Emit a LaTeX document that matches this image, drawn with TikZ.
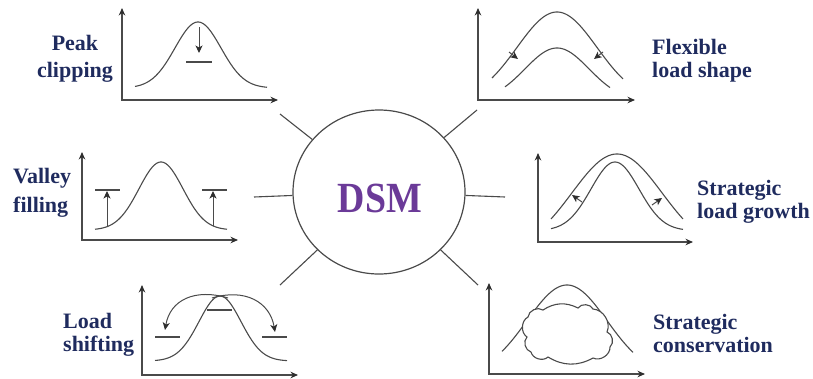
\documentclass[tikz,border=0pt]{standalone}
\usepackage{fontspec}
\setmainfont{Liberation Serif}
\usetikzlibrary{arrows.meta,shapes.geometric}
\definecolor{labelnavy}{HTML}{1F2B5E}
\definecolor{dsmpurple}{HTML}{6B3A98}
\definecolor{linegray}{HTML}{4A4A4A}
\definecolor{tipgray}{HTML}{2E2E2E}
% bell-shaped load curve: from x=#1 to x=#2, centre #3, base #4, height #5, spread #6
\newcommand\bellcurve[6]{\draw[curve] plot[domain=#1:#2,samples=90,smooth] (\x,{#4-#5*exp(-((\x-#3)^2)/(2*#6*#6))});}
\begin{document}
\begin{tikzpicture}[x=1pt,y=-1pt,
  curve/.style={linegray,line width=1.1pt},
  axes/.style={linegray,line width=1.1pt,{Stealth[length=7.5pt,width=6.5pt,color=tipgray]}-{Stealth[length=7.5pt,width=6.5pt,color=tipgray]}},
  marker/.style={linegray,line width=1.1pt},
  tip/.style={linegray,line width=1pt,-{Stealth[length=7.5pt,width=7pt,inset=2pt,color=tipgray]}},
  spoke/.style={linegray,line width=1.1pt},
  label/.style={text=labelnavy,font=\fontsize{22}{23}\selectfont\bfseries,inner sep=0pt},
  hub/.style={ellipse,draw=linegray,line width=1.2pt,minimum width=172pt,minimum height=164pt,inner sep=0pt}]
\useasboundingbox (0,0) rectangle (813,378);

% central hub and its spokes
\node[hub] (dsm) at (379,192) {};
\node[text=dsmpurple,font=\fontsize{43}{43}\selectfont\bfseries,xscale=0.88,anchor=base,inner sep=0pt] (dsmtext) at (380,212.5) {DSM};
\coordinate (sul) at (280,114);
\coordinate (sur) at (477,110);
\coordinate (sl) at (254,197);
\coordinate (sr) at (505,197);
\coordinate (sll) at (280,285);
\coordinate (slr) at (478,285);
\foreach \s in {sul,sur,sl,sr,sll,slr} \draw[spoke] (dsm) -- (\s);

% Peak clipping
\coordinate (p1y) at (122,8); \coordinate (p1x) at (278,100);
\draw[axes] (p1y) |- (p1x);
\bellcurve{135}{267}{198}{88}{66}{23}
\draw[tip] (199,27) -- (199,53);
\draw[marker] (186,62) -- (212,62);
\node[label,align=center,anchor=base] (lpeak) at (75,77.5) {Peak\\[4.5pt]clipping};

% Flexible load shape
\coordinate (p2y) at (478,8); \coordinate (p2x) at (635,100);
\draw[axes] (p2y) |- (p2x);
\bellcurve{492}{623}{557}{102}{90}{40}
\bellcurve{505}{610}{557}{101}{53}{32}
\draw[tip] (509,52) -- (518,59);
\draw[tip] (603,52) -- (594,59);
\node[label,align=left,anchor=base west] (lflex) at (652,77) {Flexible\\load shape};

% Valley filling
\coordinate (p3y) at (82,152); \coordinate (p3x) at (238,240);
\draw[axes] (p3y) |- (p3x);
\bellcurve{95}{227}{161}{230}{68}{22}
\draw[marker] (95,190) -- (120,190);
\draw[marker] (202,190) -- (227,190);
\draw[tip] (107,227) -- (107,191);
\draw[tip] (213,226) -- (213,191);
\node[label,align=left,anchor=base west] (lvalley) at (13,212) {Valley\\[5.4pt]filling};

% Strategic load growth
\coordinate (p4y) at (538,153); \coordinate (p4x) at (693,242);
\draw[axes] (p4y) |- (p4x);
\bellcurve{551}{683}{617}{252.6}{98.6}{45}
\bellcurve{551}{683}{615}{230.6}{68.6}{24}
\draw[tip] (582,202) -- (572,195);
\draw[tip] (652,205) -- (662,198);
\node[label,align=left,anchor=base west] (lgrowth) at (697,218) {Strategic\\load growth};

% Load shifting
\coordinate (p5y) at (142,285); \coordinate (p5x) at (298,375);
\draw[axes] (p5y) |- (p5x);
\bellcurve{155}{287}{220}{361}{65}{21}
\draw[marker] (155,337) -- (180,337);
\draw[marker] (262,337) -- (287,337);
\draw[marker] (207,310) -- (232,310);
\draw[tip] (228,298) .. controls (195,288) and (170,300) .. (165,330);
\draw[tip] (212,298) .. controls (245,288) and (270,302) .. (275,332);
\node[label,align=left,anchor=base west] (lshift) at (63,351) {Load\\shifting};

% Strategic conservation
\coordinate (p6y) at (489,283); \coordinate (p6x) at (645,374);
\draw[axes] (p6y) |- (p6x);
\bellcurve{502}{633}{567}{375.5}{90.5}{40}
\draw[curve,fill=white] (527,337) to[bend left=60] (528,317) to[bend left=60] (543,310)
  to[bend left=30] (578,308) to[bend left=60] (593,309) to[bend left=55] (607,332)
  to[bend left=60] (610,347) to[bend left=60] (593,358) to[bend left=30] (548,357)
  to[bend left=60] (531,352) to[bend left=60] cycle;
\node[label,align=left,anchor=base west] (lcons) at (653,352) {Strategic\\conservation};
\end{tikzpicture}
\end{document}
